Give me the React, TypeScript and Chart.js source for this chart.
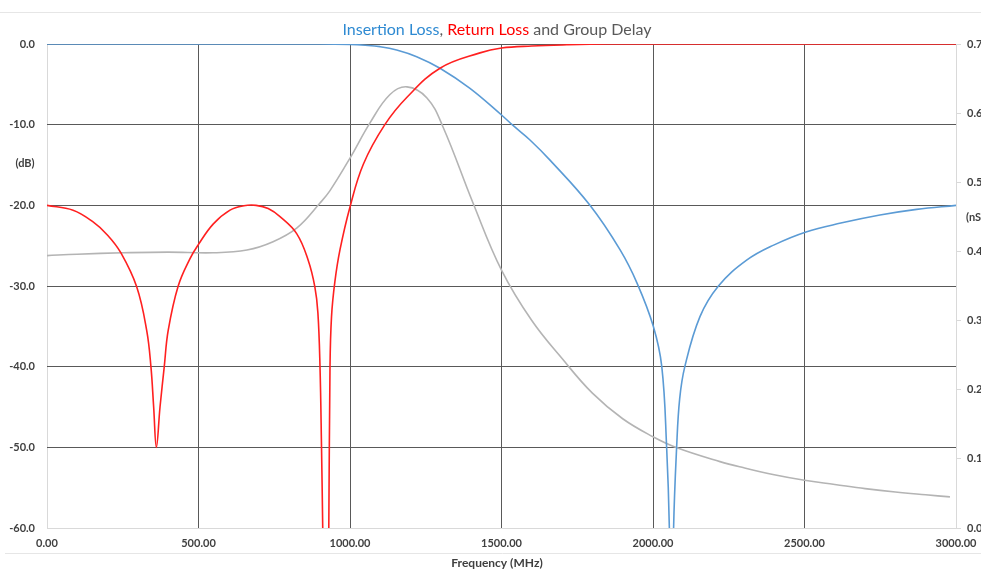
import React, { useEffect, useRef } from "react";
import { Chart, registerables } from "chart.js";

Chart.register(...registerables);

// Return loss (dB)
const RL_FREQ = [0, 86, 150, 200, 244, 296, 329, 343, 352, 361, 373, 387, 400, 433, 472, 499, 549, 604, 650, 690, 730, 769, 824, 862, 884, 894, 901, 906, 910, 921, 930, 934, 939, 950, 967, 1000, 1044, 1115, 1188, 1297, 1429, 1500, 1600, 1716, 1850, 2000, 2500, 3000];
const RL_DB = [-20, -20.6, -22.0, -23.7, -25.9, -30.1, -35.5, -40, -45, -50, -45, -40, -35.5, -30, -26.6, -24.9, -22.3, -20.6, -20.05, -20, -20.4, -21.4, -23.5, -26.8, -30.1, -33.3, -40, -50, -60, -90, -60, -40, -33.8, -29.5, -25.5, -20.2, -14.9, -10, -6.6, -3, -1.1, -0.5, -0.25, -0.1, 0, 0, 0, 0];

// Insertion loss (dB)
const IL_FREQ = [0, 500, 900, 1000, 1050, 1099, 1154, 1220, 1297, 1396, 1500, 1538, 1594, 1660, 1792, 1891, 1948, 2001, 2029, 2045, 2054, 2061, 2068, 2078, 2088, 2105, 2155, 2216, 2309, 2400, 2505, 2620, 2749, 2870, 3000];
const IL_DB = [0, 0, 0, -0.05, -0.15, -0.33, -0.74, -1.57, -3, -5.5, -8.8, -10.1, -11.9, -14.4, -20, -25.5, -29.7, -35, -40, -50, -60, -80, -60, -50, -44, -40, -33.8, -30, -26.8, -24.9, -23.3, -22.2, -21.2, -20.5, -20];

// Group delay (nS)
const GD_FREQ = [0, 100, 251, 400, 548, 660, 746, 825, 901, 934, 1000, 1066, 1132, 1188, 1254, 1307, 1406, 1500, 1600, 1700, 1800, 1900, 2000, 2079, 2221, 2300, 2400, 2500, 2600, 2700, 2800, 2900, 2980];
const GD_NS = [0.394, 0.396, 0.398, 0.399, 0.398, 0.402, 0.414, 0.434, 0.47, 0.488, 0.535, 0.586, 0.627, 0.638, 0.622, 0.58, 0.47, 0.373, 0.3, 0.245, 0.195, 0.158, 0.132, 0.116, 0.096, 0.087, 0.077, 0.069, 0.063, 0.057, 0.052, 0.048, 0.045];

const TITLE_PARTS = [
  { text: "Insertion Loss", color: "#2E8AD2" },
  { text: ", ", color: "#595959" },
  { text: "Return Loss", color: "#FF0000" },
  { text: " and Group Delay", color: "#595959" },
];
const LEFT_UNIT = "(dB)";
const RIGHT_UNIT = "(nS)";
const X_TITLE = "Frequency (MHz)";

const FONT = "Lato, 'Open Sans', sans-serif";
const TICK_COLOR = "#404040";
const GRID_DARK = "#595959";
const GRID_LIGHT = "#d9d9d9";

const toXY = (xs: number[], ys: number[]) => xs.map((x, i) => ({ x, y: ys[i] }));

const decorPlugin = {
  id: "decor",
  beforeDraw(chart: any) {
    const ctx = chart.ctx;
    ctx.save();
    ctx.strokeStyle = "#e6e6e6";
    ctx.lineWidth = 1;
    ctx.beginPath();
    ctx.moveTo(0, 12.5);
    ctx.lineTo(chart.width, 12.5);
    ctx.moveTo(5, 553.5);
    ctx.lineTo(chart.width, 553.5);
    ctx.stroke();
    ctx.restore();
  },
  afterDraw(chart: any) {
    const ctx = chart.ctx;
    ctx.save();
    ctx.font = `16px ${FONT}`;
    ctx.textBaseline = "middle";
    ctx.textAlign = "left";
    const total = TITLE_PARTS.reduce((s, p) => s + ctx.measureText(p.text).width, 0);
    let x = 497 - total / 2;
    for (const p of TITLE_PARTS) {
      ctx.fillStyle = p.color;
      ctx.fillText(p.text, x, 30);
      x += ctx.measureText(p.text).width;
    }
    ctx.font = `bold 11px ${FONT}`;
    ctx.fillStyle = TICK_COLOR;
    ctx.textAlign = "center";
    ctx.fillText(LEFT_UNIT, 25, 163);
    ctx.textAlign = "left";
    ctx.fillText(RIGHT_UNIT, 966, 217);
    ctx.font = `bold 12px ${FONT}`;
    ctx.textAlign = "center";
    ctx.fillText(X_TITLE, 497, 563);
    ctx.restore();
  },
};

export default function App() {
  const ref = useRef<HTMLCanvasElement | null>(null);

  useEffect(() => {
    if (!ref.current) return;
    const tickFont = { family: FONT, size: 11, weight: "bold" as const };
    const lineBase = {
      borderWidth: 1.6,
      pointRadius: 0,
      tension: 0.4,
      capBezierPoints: false,
    };
    const chart = new Chart(ref.current, {
      type: "line",
      data: {
        datasets: [
          {
            label: "Return Loss",
            data: toXY(RL_FREQ, RL_DB),
            borderColor: "#FF2020",
            yAxisID: "y",
            ...lineBase,
          },
          {
            label: "Insertion Loss",
            data: toXY(IL_FREQ, IL_DB),
            borderColor: "#5B9BD5",
            yAxisID: "y",
            ...lineBase,
          },
          {
            label: "Group Delay",
            data: toXY(GD_FREQ, GD_NS),
            borderColor: "#B4B4B4",
            yAxisID: "y1",
            ...lineBase,
          },
        ],
      },
      options: {
        responsive: false,
        animation: false,
        events: [],
        layout: { padding: { top: 44, left: 0, right: 0, bottom: 0 } },
        plugins: {
          legend: { display: false },
          title: { display: false },
          tooltip: { enabled: false },
        },
        scales: {
          x: {
            type: "linear",
            min: 0,
            max: 3000,
            ticks: {
              stepSize: 500,
              autoSkip: false,
              maxRotation: 0,
              padding: 9,
              color: TICK_COLOR,
              font: tickFont,
              callback: (v: any) => Number(v).toFixed(2),
            },
            grid: {
              drawTicks: false,
              lineWidth: 1,
              color: (c: any) =>
                c.tick && (c.tick.value === 0 || c.tick.value === 3000) ? GRID_LIGHT : GRID_DARK,
            },
            border: { display: false },
            afterFit: (s: any) => {
              s.height = 44;
            },
          },
          y: {
            type: "linear",
            position: "left",
            min: -60,
            max: 0,
            ticks: {
              stepSize: 10,
              padding: 12,
              color: TICK_COLOR,
              font: tickFont,
              callback: (v: any) => Number(v).toFixed(1),
            },
            grid: {
              drawTicks: false,
              lineWidth: 1,
              color: (c: any) => (c.tick && c.tick.value === -60 ? GRID_LIGHT : GRID_DARK),
            },
            border: { display: false },
            afterFit: (s: any) => {
              s.width = 47;
            },
          },
          y1: {
            type: "linear",
            position: "right",
            min: 0,
            max: 0.7,
            ticks: {
              stepSize: 0.1,
              padding: 6,
              color: TICK_COLOR,
              font: tickFont,
              callback: (v: any) => Number(v).toFixed(1),
            },
            grid: {
              drawOnChartArea: false,
              drawTicks: true,
              tickLength: 5,
              color: GRID_LIGHT,
            },
            border: { display: false },
            afterFit: (s: any) => {
              s.width = 44;
            },
          },
        },
      },
      plugins: [decorPlugin],
    });
    return () => chart.destroy();
  }, []);

  return (
    <div
      style={{
        position: "absolute",
        left: 0,
        top: 0,
        width: 981,
        height: 572,
        overflow: "hidden",
        background: "#fff",
      }}
    >
      <canvas ref={ref} width={1000} height={572} style={{ display: "block", width: 1000, height: 572 }} />
    </div>
  );
}
